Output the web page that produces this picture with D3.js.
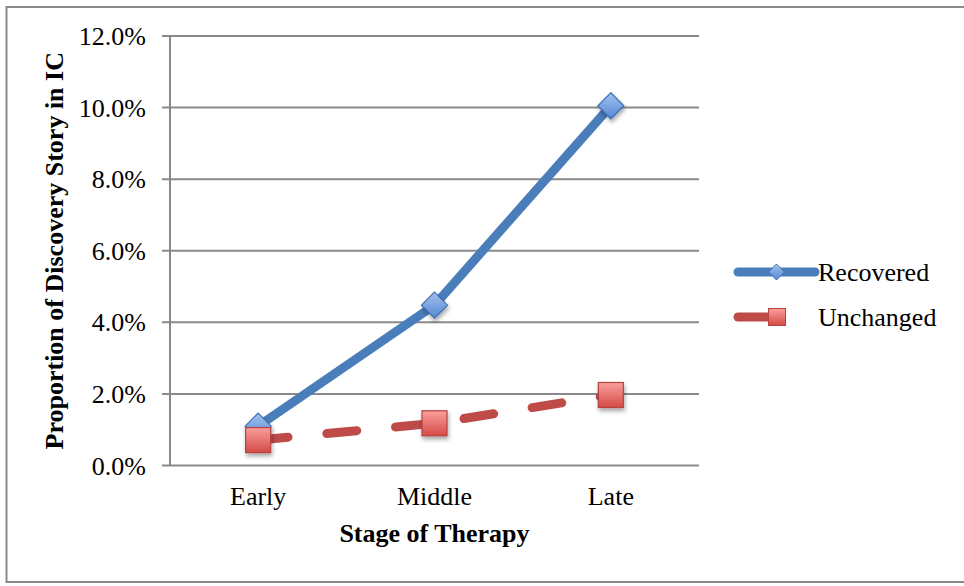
<!DOCTYPE html>
<html><head><meta charset="utf-8">
<script src="https://cdn.jsdelivr.net/npm/d3@7"></script>
<style>html,body{margin:0;padding:0;background:#fff;}svg{display:block;font-family:"Liberation Serif","Times New Roman",serif;}</style>
</head><body>
<script>
const categories = ["Early", "Middle", "Late"];
const recovered = [0.0110, 0.0448, 0.1005];
const unchanged = [0.0071, 0.0118, 0.0197];
const yTicks = [0, 0.02, 0.04, 0.06, 0.08, 0.10, 0.12];
const seriesNames = ["Recovered", "Unchanged"];
const yTitle = "Proportion of Discovery Story in IC";
const xTitle = "Stage of Therapy";

const W = 964, H = 586;
const svg = d3.select("body").append("svg").attr("width", W).attr("height", H);
const defs = svg.append("defs");
const f = defs.append("filter").attr("id","sh").attr("x","-50%").attr("y","-50%").attr("width","200%").attr("height","200%");
f.append("feDropShadow").attr("dx",1).attr("dy",3).attr("stdDeviation",2).attr("flood-color","#000").attr("flood-opacity",0.35);
const gb = defs.append("linearGradient").attr("id","gb").attr("x1",0).attr("y1",0).attr("x2",0).attr("y2",1);
gb.append("stop").attr("offset","0%").attr("stop-color","#a3c2ef");
gb.append("stop").attr("offset","100%").attr("stop-color","#5588d3");
const gr = defs.append("linearGradient").attr("id","gr").attr("x1",0).attr("y1",0).attr("x2",0).attr("y2",1);
gr.append("stop").attr("offset","0%").attr("stop-color","#f9a09e");
gr.append("stop").attr("offset","100%").attr("stop-color","#d64a47");

// outer frame
svg.append("rect").attr("x",6.5).attr("y",7).attr("width",980).attr("height",575)
  .attr("fill","none").attr("stroke","#8a8a8a").attr("stroke-width",2);

const L = 170, R = 699, T = 36, B = 465.5;
const x = d3.scaleBand().domain(categories).range([L, R]);
const y = d3.scaleLinear().domain([0, 0.12]).range([B, T]);
const cx = c => x(c) + x.bandwidth()/2;

// gridlines
svg.append("g").selectAll("line").data(yTicks).join("line")
  .attr("x1", L - 8).attr("x2", R).attr("y1", d => y(d)).attr("y2", d => y(d))
  .attr("stroke", "#8a8a8a").attr("stroke-width", 2);
// y axis line
svg.append("line").attr("x1",L).attr("x2",L).attr("y1",T).attr("y2",B).attr("stroke","#8a8a8a").attr("stroke-width",2);

// tick labels
svg.append("g").selectAll("text").data(yTicks).join("text")
  .attr("x", 146).attr("y", d => y(d) + 9).attr("text-anchor","end")
  .attr("font-size", 26).attr("fill","#000").text(d => d3.format(".1%")(d));
svg.append("g").selectAll("text").data(categories).join("text")
  .attr("x", d => cx(d)).attr("y", 505).attr("text-anchor","middle")
  .attr("font-size", 26).attr("fill","#000").text(d => d);

svg.append("text").attr("x", (L+R)/2).attr("y", 542).attr("text-anchor","middle")
  .attr("font-size", 26).attr("font-weight","bold").text(xTitle);
svg.append("text").attr("transform", `translate(63,${(T+B)/2}) rotate(-90)`).attr("text-anchor","middle")
  .attr("font-size", 26).attr("font-weight","bold").text(yTitle);

const line = d3.line().x((d,i) => cx(categories[i])).y(d => y(d));
// unchanged line
svg.append("path").datum(unchanged).attr("d", line).attr("fill","none")
  .attr("stroke","#be4b48").attr("stroke-width",9).attr("stroke-linecap","round")
  .attr("stroke-dasharray","30,39");
// recovered line
svg.append("path").datum(recovered).attr("d", line).attr("fill","none")
  .attr("stroke","#4a7ebb").attr("stroke-width",9).attr("stroke-linejoin","round");

const diamond = (s) => `M0,${-s}L${s},0L0,${s}L${-s},0Z`;
// recovered markers
svg.append("g").selectAll("path").data(recovered).join("path")
  .attr("transform",(d,i)=>`translate(${cx(categories[i])},${y(d)})`)
  .attr("d", diamond(13)).attr("fill","url(#gb)").attr("stroke","#3f6fb3").attr("stroke-width",1.2)
  .attr("filter","url(#sh)");
// unchanged markers
svg.append("g").selectAll("rect").data(unchanged).join("rect")
  .attr("x",(d,i)=>cx(categories[i]) - 12.5).attr("y", d => y(d) - 12.5)
  .attr("width",25).attr("height",25).attr("fill","url(#gr)").attr("stroke","#b6423f").attr("stroke-width",1.2)
  .attr("filter","url(#sh)");

// legend
const lg = svg.append("g");
lg.append("line").attr("x1",738).attr("x2",815).attr("y1",272).attr("y2",272)
  .attr("stroke","#4a7ebb").attr("stroke-width",9).attr("stroke-linecap","round");
lg.append("path").attr("transform","translate(776.5,272)").attr("d",diamond(8))
  .attr("fill","url(#gb)").attr("stroke","#3f6fb3").attr("stroke-width",1);
lg.append("line").attr("x1",738).attr("x2",772).attr("y1",317).attr("y2",317)
  .attr("stroke","#be4b48").attr("stroke-width",9).attr("stroke-linecap","round");
lg.append("rect").attr("x",768.5).attr("y",308.5).attr("width",17).attr("height",17)
  .attr("fill","url(#gr)").attr("stroke","#b6423f").attr("stroke-width",1);
lg.selectAll("text").data(seriesNames).join("text")
  .attr("x",818).attr("y",(d,i)=>281 + i*45).attr("font-size",26).text(d=>d);
</script>
</body></html>
